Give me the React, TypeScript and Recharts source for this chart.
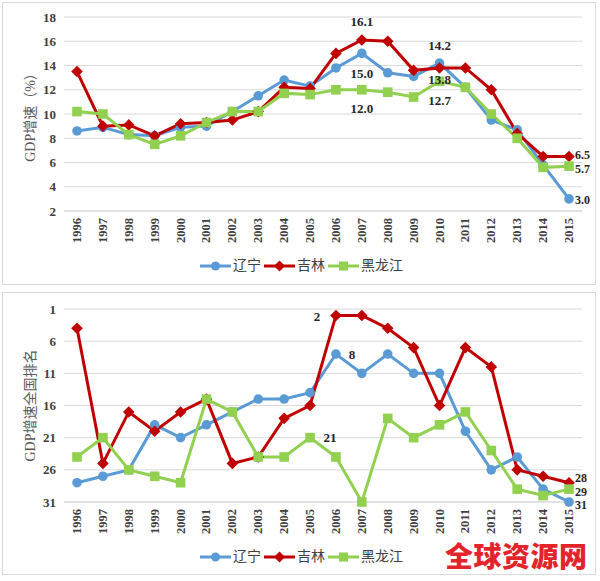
import React from 'react';
import { LineChart, Line, XAxis, YAxis, CartesianGrid, LabelList } from 'recharts';

const years = ['1996', '1997', '1998', '1999', '2000', '2001', '2002', '2003', '2004', '2005', '2006', '2007', '2008', '2009', '2010', '2011', '2012', '2013', '2014', '2015'];
const seriesNames = ['辽宁', '吉林', '黑龙江'];

const liaoningGrowth = [8.6, 8.9, 8.3, 8.2, 8.9, 9.0, 10.2, 11.5, 12.8, 12.3, 13.8, 15.0, 13.4, 13.1, 14.2, 12.2, 9.5, 8.7, 5.8, 3.0];
const jilinGrowth = [13.5, 9.0, 9.1, 8.2, 9.2, 9.3, 9.5, 10.2, 12.2, 12.1, 15.0, 16.1, 16.0, 13.6, 13.8, 13.8, 12.0, 8.4, 6.5, 6.5];
const heilongjiangGrowth = [10.2, 10.0, 8.3, 7.5, 8.2, 9.3, 10.2, 10.2, 11.7, 11.6, 12.0, 12.0, 11.8, 11.4, 12.7, 12.2, 10.0, 8.0, 5.6, 5.7];

const liaoningRank = [28, 27, 26, 19, 21, 19, 17, 15, 15, 14, 8, 11, 8, 11, 11, 20, 26, 24, 29, 31];
const jilinRank = [4, 25, 17, 20, 17, 15, 25, 24, 18, 16, 2, 2, 4, 7, 16, 7, 10, 26, 27, 28];
const heilongjiangRank = [24, 21, 26, 27, 28, 15, 17, 24, 24, 21, 24, 31, 18, 21, 19, 17, 23, 29, 30, 29];

const growthTicks = [2, 4, 6, 8, 10, 12, 14, 16, 18];
const rankTicks = [1, 6, 11, 16, 21, 26, 31];

const growthData = years.map((y, i) => ({
  year: y,
  ln: liaoningGrowth[i],
  jl: jilinGrowth[i],
  hlj: heilongjiangGrowth[i],
}));
const rankData = years.map((y, i) => ({
  year: y,
  ln: liaoningRank[i],
  jl: jilinRank[i],
  hlj: heilongjiangRank[i],
}));

const BLUE = '#5B9BD5';
const RED = '#C00000';
const GREEN = '#92D050';
const SERIF = "'Liberation Serif', 'Times New Roman', serif";
const CJK = "'Liberation Serif', 'Noto Sans CJK SC', serif";

const CircleDot = (p: any) => {
  if (p.cx == null || p.cy == null) return null;
  return <circle cx={p.cx} cy={p.cy} r={4.8} fill={BLUE} />;
};
const DiamondDot = (p: any) => {
  if (p.cx == null || p.cy == null) return null;
  const { cx, cy } = p;
  const r = 5.8;
  return <polygon points={`${cx},${cy - r} ${cx + r},${cy} ${cx},${cy + r} ${cx - r},${cy}`} fill={RED} />;
};
const SquareDot = (p: any) => {
  if (p.cx == null || p.cy == null) return null;
  return <rect x={p.cx - 4.8} y={p.cy - 4.8} width={9.6} height={9.6} fill={GREEN} />;
};

type Spec = Record<number, [number, number, 'start' | 'middle' | 'end', number?]>;

const makeLabel = (spec: Spec, decimals: number) => (props: any) => {
  const { x, y, value, index } = props;
  const s = spec[index];
  if (!s || x == null || y == null) return null;
  const [dx, dy, anchor, size] = s;
  return (
    <text
      x={x + dx}
      y={y + dy}
      dy="0.35em"
      textAnchor={anchor}
      fontFamily={SERIF}
      fontWeight="bold"
      fontSize={size ?? 13}
      fill="#262626"
    >
      {Number(value).toFixed(decimals)}
    </text>
  );
};

const lnGrowthLabels: Spec = { 11: [0, 20, 'middle'], 14: [0, -18, 'middle'], 19: [6, 1, 'start', 12] };
const jlGrowthLabels: Spec = { 11: [0, -19, 'middle'], 14: [0, 12, 'middle'], 19: [6, -2, 'start', 12] };
const hljGrowthLabels: Spec = { 11: [0, 19, 'middle'], 14: [0, 19, 'middle'], 19: [6, 3, 'start', 12] };

const lnRankLabels: Spec = { 10: [16, 0, 'middle'], 19: [6, 3, 'start', 12] };
const jlRankLabels: Spec = { 10: [-19, 1, 'middle'], 19: [6, -5, 'start', 12] };
const hljRankLabels: Spec = { 9: [20, 0, 'middle'], 19: [6, 3, 'start', 12] };

const XTick = (props: any) => {
  const { x, y, payload } = props;
  return (
    <g transform={`translate(${x},${y - 1}) rotate(-90)`}>
      <text x={0} y={0} dy={4} textAnchor="end" fontFamily={SERIF} fontWeight="bold" fontSize={12.5} fill="#404040">
        {payload.value}
      </text>
    </g>
  );
};

const legendColors = [BLUE, RED, GREEN];
const LegendIcon = ({ idx }: { idx: number }) => {
  const c = legendColors[idx];
  return (
    <svg width={31} height={14} style={{ display: 'block' }}>
      <line x1={0} y1={7} x2={31} y2={7} stroke={c} strokeWidth={3} />
      {idx === 0 && <circle cx={15.5} cy={7} r={4.5} fill={c} />}
      {idx === 1 && <polygon points="15.5,1.5 21,7 15.5,12.5 10,7" fill={c} />}
      {idx === 2 && <rect x={11} y={2.5} width={9} height={9} fill={c} />}
    </svg>
  );
};

const LegendRow = ({ top }: { top: number }) => (
  <div
    style={{
      position: 'absolute',
      left: 200,
      top: top - 9,
      height: 18,
      display: 'flex',
      alignItems: 'center',
      fontFamily: CJK,
      fontSize: 14,
      color: '#404040',
      whiteSpace: 'nowrap',
    }}
  >
    {seriesNames.map((n, i) => (
      <React.Fragment key={n}>
        <LegendIcon idx={i} />
        <span style={{ marginLeft: 2, marginRight: 3, lineHeight: '18px' }}>{n}</span>
      </React.Fragment>
    ))}
  </div>
);

const tickStyle = { fontFamily: SERIF, fontWeight: 'bold', fontSize: 13, fill: '#404040' } as any;
const axisLabelStyle = { fontFamily: CJK, fontSize: 14, fill: '#595959' } as any;

const boxStyle = (top: number): React.CSSProperties => ({
  position: 'absolute',
  left: 2,
  top,
  width: 594,
  height: 283,
  border: '1px solid #d9d9d9',
  boxSizing: 'border-box',
  background: '#fff',
});

export default function App() {
  return (
    <div style={{ position: 'absolute', left: 0, top: 0, width: 600, height: 581, background: '#fff', overflow: 'hidden' }}>
      <div style={boxStyle(2)} />
      <div style={boxStyle(292)} />

      <div style={{ position: 'absolute', left: 0, top: 0 }}>
        <LineChart width={600} height={290} data={growthData} margin={{ top: 17, right: 18, bottom: 29, left: 0 }}>
          <CartesianGrid vertical={false} stroke="#d9d9d9" />
          <XAxis
            dataKey="year"
            padding={{ left: 13, right: 13 }}
            tickLine={false}
            axisLine={{ stroke: '#d9d9d9' }}
            height={50}
            interval={0}
            tick={<XTick />}
          />
          <YAxis
            width={64}
            domain={[2, 18]}
            ticks={growthTicks}
            tickLine={false}
            axisLine={false}
            tick={tickStyle}
            label={{ value: 'GDP增速（%）', angle: -90, position: 'center', dx: -2, style: axisLabelStyle }}
          />
          <Line type="linear" dataKey="ln" stroke={BLUE} strokeWidth={3} dot={<CircleDot />} activeDot={false} isAnimationActive={false}>
            <LabelList dataKey="ln" content={makeLabel(lnGrowthLabels, 1)} />
          </Line>
          <Line type="linear" dataKey="jl" stroke={RED} strokeWidth={3} dot={<DiamondDot />} activeDot={false} isAnimationActive={false}>
            <LabelList dataKey="jl" content={makeLabel(jlGrowthLabels, 1)} />
          </Line>
          <Line type="linear" dataKey="hlj" stroke={GREEN} strokeWidth={3} dot={<SquareDot />} activeDot={false} isAnimationActive={false}>
            <LabelList dataKey="hlj" content={makeLabel(hljGrowthLabels, 1)} />
          </Line>
        </LineChart>
      </div>

      <div style={{ position: 'absolute', left: 0, top: 290 }}>
        <LineChart width={600} height={290} data={rankData} margin={{ top: 19, right: 18, bottom: 28, left: 0 }}>
          <CartesianGrid vertical={false} stroke="#d9d9d9" />
          <XAxis
            dataKey="year"
            padding={{ left: 13, right: 13 }}
            tickLine={false}
            axisLine={{ stroke: '#d9d9d9' }}
            height={50}
            interval={0}
            tick={<XTick />}
          />
          <YAxis
            width={64}
            domain={[1, 31]}
            ticks={rankTicks}
            reversed
            tickLine={false}
            axisLine={false}
            tick={tickStyle}
            label={{ value: 'GDP增速全国排名', angle: -90, position: 'center', dx: -2, style: axisLabelStyle }}
          />
          <Line type="linear" dataKey="ln" stroke={BLUE} strokeWidth={3} dot={<CircleDot />} activeDot={false} isAnimationActive={false}>
            <LabelList dataKey="ln" content={makeLabel(lnRankLabels, 0)} />
          </Line>
          <Line type="linear" dataKey="jl" stroke={RED} strokeWidth={3} dot={<DiamondDot />} activeDot={false} isAnimationActive={false}>
            <LabelList dataKey="jl" content={makeLabel(jlRankLabels, 0)} />
          </Line>
          <Line type="linear" dataKey="hlj" stroke={GREEN} strokeWidth={3} dot={<SquareDot />} activeDot={false} isAnimationActive={false}>
            <LabelList dataKey="hlj" content={makeLabel(hljRankLabels, 0)} />
          </Line>
        </LineChart>
      </div>

      <LegendRow top={266} />
      <LegendRow top={557} />

      <div
        style={{
          position: 'absolute',
          left: 445,
          top: 540,
          fontFamily: "'Noto Sans CJK SC', sans-serif",
          fontWeight: 900,
          fontSize: 28,
          lineHeight: '30px',
          letterSpacing: 0.5,
          color: '#E3242B',
          whiteSpace: 'nowrap',
        }}
      >
        全球资源网
      </div>
    </div>
  );
}
